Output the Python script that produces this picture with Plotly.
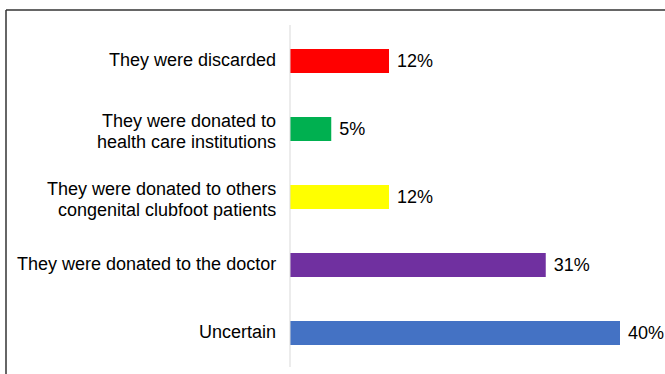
import plotly.graph_objects as go

# Fate of the used braces / orthoses
categories = [
    "They were discarded",
    "They were donated to<br>health care institutions",
    "They were donated to others<br>congenital clubfoot patients",
    "They were donated to the doctor",
    "Uncertain",
]
percentages = [12, 5, 12, 31, 40]
bar_colors = ["#FF0000", "#00B050", "#FFFF00", "#7030A0", "#4472C4"]

W, H = 665, 374
left, right, top, bottom = 290, 5, 27, 7
plot_w = W - left - right
plot_h = H - top - bottom

FONT = "Liberation Sans, Arial, sans-serif"
FONT_SIZE = 18
LINE_GAP = 21

fig = go.Figure(
    go.Bar(
        x=percentages,
        y=categories,
        orientation="h",
        marker=dict(color=bar_colors, line=dict(width=0)),
        width=0.355,
        text=[f" {v}%" for v in percentages],
        textposition="outside",
        cliponaxis=False,
        textfont=dict(family=FONT, size=FONT_SIZE, color="#000000"),
    )
)

fig.update_layout(
    width=W,
    height=H,
    margin=dict(l=left, r=right, t=top, b=bottom),
    paper_bgcolor="white",
    plot_bgcolor="white",
    showlegend=False,
    font=dict(family=FONT, size=FONT_SIZE, color="#000000"),
    xaxis=dict(
        range=[0, plot_w / 8.25],
        showgrid=False,
        zeroline=False,
        showticklabels=False,
        showline=False,
    ),
    yaxis=dict(
        autorange="reversed",
        showgrid=False,
        zeroline=False,
        showline=False,
        showticklabels=False,
    ),
)

# Category labels, one annotation per text line for tight line spacing
for cat in categories:
    lines = cat.split("<br>")
    n = len(lines)
    offset = 1 if n == 1 else -2
    for i, line in enumerate(lines):
        fig.add_annotation(
            xref="paper", yref="y", x=0, y=cat,
            text=line, showarrow=False,
            xanchor="right", yanchor="middle",
            xshift=-12, yshift=((n - 1) / 2 - i) * LINE_GAP + offset,
            font=dict(family=FONT, size=FONT_SIZE, color="#000000"),
        )

# Light vertical axis line, running slightly above the first category band
fig.add_shape(type="line", xref="paper", yref="paper",
              x0=0, x1=0, y0=0, y1=1 + 2 / plot_h,
              line=dict(color="#D9D9D9", width=1))

# Outer frame (left and top edges)
fx0 = (6 - left) / plot_w
fy1 = 1 + (top - 10) / plot_h
fig.add_shape(type="line", xref="paper", yref="paper",
              x0=fx0, x1=fx0, y0=-0.1, y1=fy1,
              line=dict(color="#333333", width=1.5))
fig.add_shape(type="line", xref="paper", yref="paper",
              x0=fx0, x1=1.1, y0=fy1, y1=fy1,
              line=dict(color="#333333", width=1.5))

fig.write_html("out.html")
